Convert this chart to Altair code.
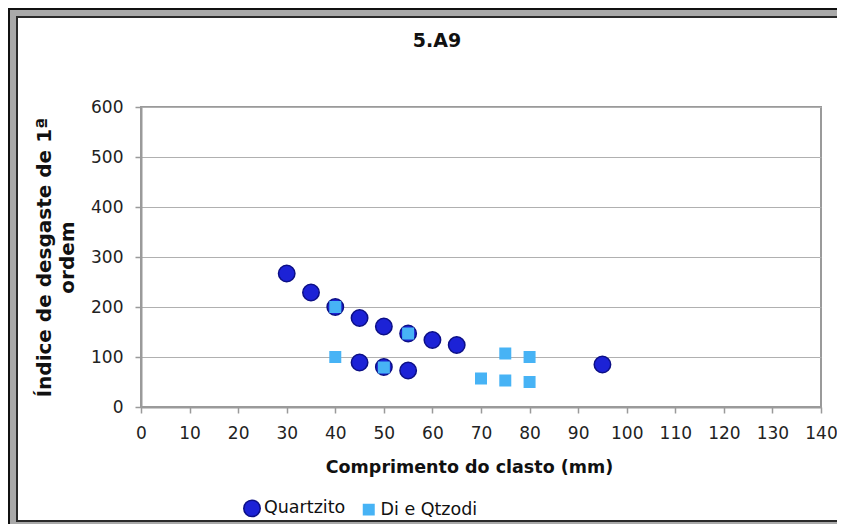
import altair as alt
import pandas as pd

# ---- data ----
series_names = ["Quartzito", "Di e Qtzodi"]

quartzito_x = [30, 35, 40, 45, 50, 55, 60, 65, 45, 50, 55, 95]
quartzito_y = [267, 229, 200, 178, 161, 147, 134, 124, 89, 80, 73, 85]

diqtz_x = [40, 40, 50, 55, 70, 75, 75, 80, 80]
diqtz_y = [200, 100, 79, 147, 57, 107, 53, 100, 50]

x_ticks = list(range(0, 141, 10))
y_ticks = list(range(0, 601, 100))

title_text = "5.A9"
x_title = "Comprimento do clasto (mm)"
y_title = ["Índice de desgaste de 1ª", "ordem"]

FONT = "DejaVu Sans"

rows = []
for x, y in zip(quartzito_x, quartzito_y):
    rows.append({"serie": series_names[0], "x": x, "y": y})
for x, y in zip(diqtz_x, diqtz_y):
    rows.append({"serie": series_names[1], "x": x, "y": y})
df = pd.DataFrame(rows)

one = pd.DataFrame({"k": [0]})


def hrule(y, x, x2, color, width):
    return alt.Chart(one).mark_rule(color=color, strokeWidth=width).encode(
        x=alt.value(x), x2=alt.value(x2), y=alt.value(y)
    )


def vrule(x, y, y2, color, width):
    return alt.Chart(one).mark_rule(color=color, strokeWidth=width).encode(
        x=alt.value(x), y=alt.value(y), y2=alt.value(y2)
    )


# frame: canvas spans plot-relative x -133..696, y -99..417
RIGHT = 696
frame_layers = [
    # outer black line
    vrule(-132, -99, 417, "#111111", 2),
    hrule(-98, -133, RIGHT, "#111111", 2),
    # gray band
    vrule(-128, -97, 417, "#a9a9a9", 6),
    hrule(-94, -131, RIGHT, "#a9a9a9", 6),
    # inner dark line
    vrule(-124, -91, 414, "#2a2a2a", 2),
    hrule(-90, -125, RIGHT, "#2a2a2a", 2),
    hrule(414, -125, RIGHT, "#2a2a2a", 2),
    hrule(416.5, -131, RIGHT, "#a9a9a9", 3),
]

title = alt.Chart(one).mark_text(
    text=title_text,
    font=FONT,
    fontSize=19,
    fontWeight="bold",
    color="#111111",
    align="center",
    baseline="alphabetic",
).encode(x=alt.value(296), y=alt.value(-60))

points = alt.Chart(df).mark_point(filled=True, opacity=1, strokeWidth=1.5).encode(
    x=alt.X(
        "x:Q",
        scale=alt.Scale(domain=[0, 140], nice=False),
        axis=alt.Axis(
            values=x_ticks,
            title=x_title,
            grid=False,
            labelPadding=12,
            labelOverlap=False,
            labelFlush=False,
            titleX=328,
            titleY=65,
            titleFontSize=17.5,
            titleBaseline="alphabetic",
            titleAnchor="middle",
        ),
    ),
    y=alt.Y(
        "y:Q",
        scale=alt.Scale(domain=[0, 600], nice=False),
        axis=alt.Axis(
            values=y_ticks,
            title=y_title,
            grid=True,
            labelPadding=12,
            labelOverlap=False,
            labelFlush=False,
            titleAngle=-90,
            titleX=-97,
            titleY=150,
            titleFontSize=20,
            titleBaseline="middle",
            titleAlign="center",
            titleLineHeight=23,
        ),
    ),
    color=alt.Color(
        "serie:N",
        scale=alt.Scale(domain=series_names, range=["#1c22d6", "#47b3f5"]),
        legend=alt.Legend(title=None),
    ),
    stroke=alt.Stroke(
        "serie:N",
        scale=alt.Scale(domain=series_names, range=["#0c0f86", "#47b3f5"]),
        legend=alt.Legend(title=None),
    ),
    shape=alt.Shape(
        "serie:N",
        scale=alt.Scale(domain=series_names, range=["circle", "square"]),
        legend=alt.Legend(title=None),
    ),
    size=alt.Size(
        "serie:N",
        scale=alt.Scale(domain=series_names, range=[270, 110]),
        legend=alt.Legend(title=None),
    ),
    order=alt.Order("serie_order:Q"),
).transform_calculate(
    serie_order="datum.serie == 'Quartzito' ? 0 : 1"
)

chart = alt.layer(*frame_layers, title, points).properties(
    width=680,
    height=300,
    autosize=alt.AutoSizeParams(type="none"),
    padding={"left": 133, "top": 99, "right": 16, "bottom": 117},
    background="white",
).configure_view(
    stroke="#9a9a9a", strokeWidth=2
).configure_axis(
    labelFont=FONT,
    labelFontSize=17,
    labelColor="#222222",
    titleFont=FONT,
    titleFontSize=17,
    titleFontWeight="bold",
    titleColor="#111111",
    domainColor="#9a9a9a",
    domainWidth=2,
    tickColor="#9a9a9a",
    tickSize=6,
    tickWidth=1.5,
    gridColor="#b0b0b0",
    gridWidth=1.2,
).configure_legend(
    orient="none",
    legendX=102,
    legendY=392,
    direction="horizontal",
    labelFont=FONT,
    labelFontSize=17.5,
    labelColor="#111111",
    labelOffset=3,
    columnPadding=14,
    padding=0,
    symbolStrokeWidth=1.5,
)

chart.save("out.html", embed_options={"renderer": "svg", "actions": False})
